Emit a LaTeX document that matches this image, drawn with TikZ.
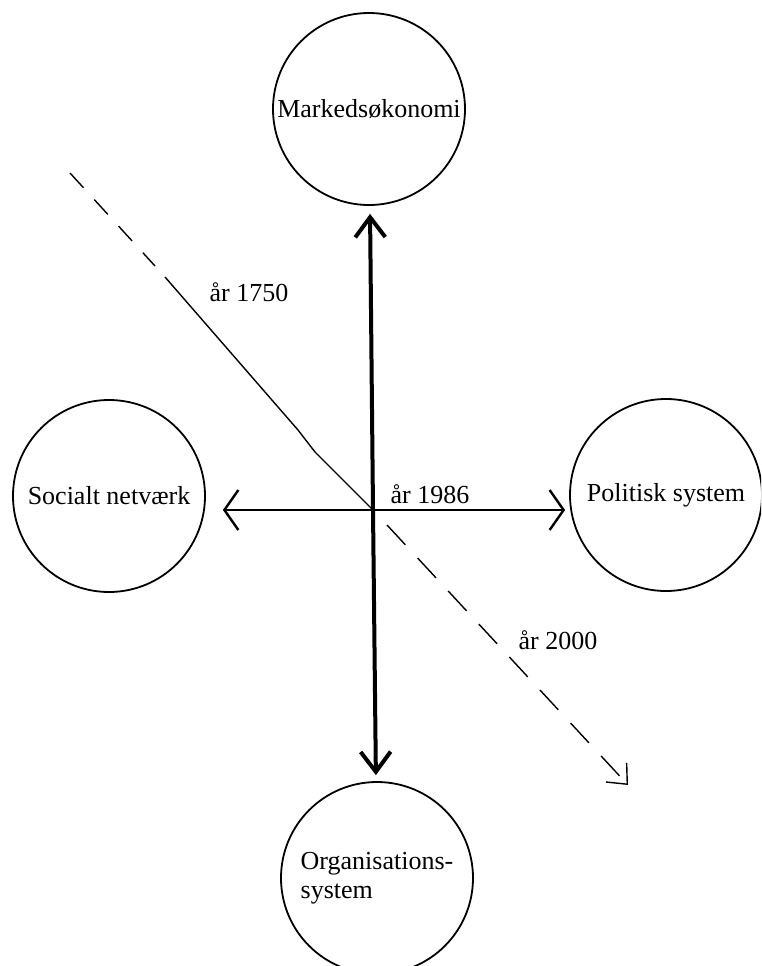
\documentclass[tikz,border=0pt]{standalone}
\usepackage{fontspec}
\setmainfont{Liberation Serif}
\usetikzlibrary{arrows.meta}
\begin{document}
\begin{tikzpicture}[x=1pt,y=-1pt,
    field/.style={draw,circle,line width=1.8pt,minimum size=192pt,inner sep=0pt,align=left},
    spoke/.style={line width=2.4pt,-{Straight Barb[length=14pt,width=40pt]}},
    axis/.style={line width=4pt,-{Straight Barb[length=20pt,width=30pt]}},
    trend/.style={line width=1.4pt},
    past/.style={trend,dash pattern=on 20pt off 16pt},
    future/.style={trend,dash pattern=on 27pt off 18pt},
    every node/.style={font=\fontsize{26}{29}\selectfont}]
\useasboundingbox (0,0) rectangle (761,966);
\clip (0,0) rectangle (761,966);

\node[field] (marked) at (369,109) {Markedsøkonomi};
\node[field] (social) at (109,496) {Socialt netværk};
\node[field] (politik) at (666,495) {Politisk system};
\node[field] (organ) at (377,878) {Organisations-\\system};

\coordinate (c) at (373,510);
\draw[axis,shorten >=8pt] (c)--(marked);
\draw[axis,shorten >=6pt] (c)--(organ);
\draw[spoke,shorten >=17pt] (c)--(c-|social.east);
\draw[spoke,shorten >=4pt] (c)--(c-|politik.west);

% 1750 -> 1986 -> 2000
\coordinate (start) at (70,173);
\coordinate (knee) at (315,452);
\draw[past] (start)--(155,266);
\draw[trend] (165,277)--(298,430)--(knee)--(c);
\draw[future,-{Straight Barb[length=16pt,width=28pt]}] (387,525)--(628,785);

\node (y1750) at (249,292) {år 1750};
\node (y1986) at (430,494) {år 1986};
\node (y2000) at (558,640) {år 2000};
\end{tikzpicture}
\end{document}
